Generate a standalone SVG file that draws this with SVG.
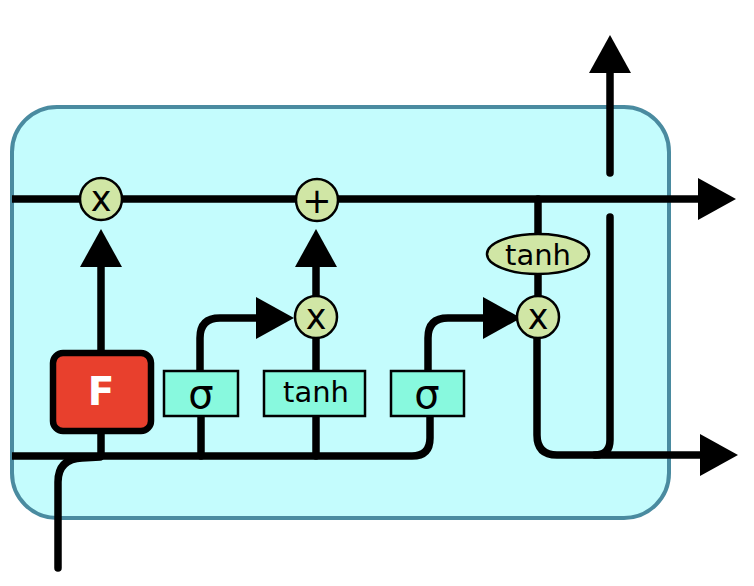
<svg xmlns="http://www.w3.org/2000/svg" width="754" height="586" viewBox="0 0 754 586">
<style>
.ln{fill:none;stroke:#000;stroke-width:7.5;stroke-linecap:round;stroke-linejoin:round}
.op{fill:#d0e6a5;stroke:#000;stroke-width:2.5}
.box{fill:#88f9de;stroke:#000;stroke-width:2.5}
.t{font-family:"DejaVu Sans",sans-serif;fill:#000;text-anchor:middle}
</style>
<defs>
<marker id="ah" markerUnits="userSpaceOnUse" markerWidth="40" markerHeight="44" refX="0" refY="21" orient="auto" viewBox="0 0 40 44">
<path d="M0,0 L38,21 L0,42 z" fill="#000"/>
</marker>
</defs>
<rect id="cell" x="12" y="107" width="657" height="411" rx="45" fill="#c4fcfd" stroke="#4a8ba0" stroke-width="4"/>
<g id="connectors">
<path class="ln" d="M12,199 L698,199" marker-end="url(#ah)" style="stroke-linecap:butt"/>
<path class="ln" d="M610,173 L610,73" marker-end="url(#ah)"/>
<path class="ln" d="M610,217 L610,440 Q610,455 595,455"/>
<path class="ln" d="M537,338 L537,435 Q537,455 557,455 L700,455" marker-end="url(#ah)"/>
<path class="ln" d="M538,199 L538,234"/>
<path class="ln" d="M538,274 L538,296"/>
<path class="ln" d="M101,350 L101,267" marker-end="url(#ah)"/>
<path class="ln" d="M101,434 L101,456"/>
<path class="ln" d="M12,456 L412,456 Q430,456 430,438 L430,417" style="stroke-linecap:butt"/>
<path class="ln" d="M428,370 L428,338 Q428,318 448,318 L483,318" marker-end="url(#ah)"/>
<path class="ln" d="M58,568 L58,482 Q58,459 82,458 L100,457"/>
<path class="ln" d="M201,456 L201,417"/>
<path class="ln" d="M200,370 L200,338 Q200,318 220,318 L256,318" marker-end="url(#ah)"/>
<path class="ln" d="M316,456 L316,417"/>
<path class="ln" d="M316,370 L316,338"/>
<path class="ln" d="M316,296 L316,267" marker-end="url(#ah)"/>
</g>
<g id="forget">
<rect x="53" y="353" width="98" height="78" rx="10" fill="#e8402d" stroke="#000" stroke-width="6.5"/>
<text class="t" x="101" y="405" font-size="39" font-weight="bold" style="fill:#fff">F</text>
</g>
<g id="sigma1">
<rect class="box" x="164" y="371" width="74" height="45"/>
<text class="t" x="201" y="408" font-size="40">σ</text>
</g>
<g id="tanh1">
<rect class="box" x="264" y="371" width="101" height="45"/>
<text class="t" x="316" y="402" font-size="29">tanh</text>
</g>
<g id="sigma2">
<rect class="box" x="391" y="371" width="73" height="45"/>
<text class="t" x="427" y="408" font-size="40">σ</text>
</g>
<g id="mul1">
<circle class="op" cx="101" cy="199" r="21"/>
<text class="t" x="101" y="211" font-size="35">x</text>
</g>
<g id="add">
<circle class="op" cx="317" cy="200" r="21"/>
<text class="t" x="317" y="213" font-size="35">+</text>
</g>
<g id="mul2">
<circle class="op" cx="316" cy="317" r="21"/>
<text class="t" x="316" y="329" font-size="35">x</text>
</g>
<g id="tanh2">
<ellipse class="op" cx="538" cy="254" rx="51" ry="20"/>
<text class="t" x="538" y="265" font-size="29">tanh</text>
</g>
<g id="mul3">
<circle class="op" cx="538" cy="317" r="21"/>
<text class="t" x="538" y="329" font-size="35">x</text>
</g>
</svg>
